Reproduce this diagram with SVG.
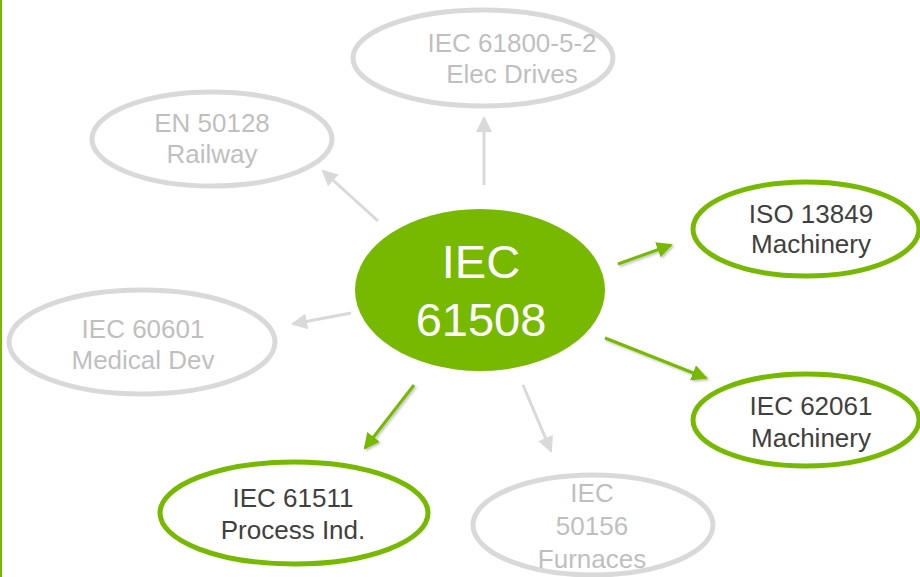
<svg xmlns="http://www.w3.org/2000/svg" width="920" height="577" viewBox="0 0 920 577">
<defs>
<style>
.t{font-family:"Liberation Sans",Arial,sans-serif;font-size:26px;text-anchor:middle}
.gt{fill:#bfbfbf}
.dt{fill:#404040}
.ge{fill:none;stroke:#d9d9d9;stroke-width:5}
.ye{fill:none;stroke:#76b900;stroke-width:5}
.ga{stroke:#d9d9d9;stroke-width:3;fill:none;marker-end:url(#ag)}
.ya{stroke:#76b900;stroke-width:3;fill:none;marker-end:url(#ay);filter:url(#sh)}
</style>
<marker id="ag" viewBox="0 0 16 16" refX="14" refY="8" markerWidth="16" markerHeight="16" markerUnits="userSpaceOnUse" orient="auto-start-reverse"><path d="M0,0 L16,8 L0,16 z" fill="#d9d9d9"/></marker>
<marker id="ay" viewBox="0 0 16 16" refX="14" refY="8" markerWidth="16" markerHeight="16" markerUnits="userSpaceOnUse" orient="auto-start-reverse"><path d="M0,0 L16,8 L0,16 z" fill="#76b900"/></marker>
<filter id="sh" x="-20%" y="-20%" width="140%" height="140%"><feDropShadow dx="1.5" dy="1.5" stdDeviation="1.2" flood-color="#000" flood-opacity="0.25"/></filter>
</defs>
<rect x="0" y="0" width="920" height="577" fill="#ffffff"/>
<line x1="1" y1="0" x2="1" y2="577" stroke="#76b900" stroke-width="2"/>
<g id="connectors">
<line class="ga" x1="484" y1="185" x2="484" y2="118"/>
<line class="ga" x1="378" y1="221" x2="323" y2="171"/>
<line class="ga" x1="351" y1="313" x2="293" y2="324"/>
<line class="ga" x1="523" y1="385" x2="551" y2="451"/>
<line class="ya" x1="618" y1="264" x2="671" y2="245"/>
<line class="ya" x1="605" y1="338" x2="706" y2="378"/>
<line class="ya" x1="414" y1="385" x2="365" y2="448"/>
<line class="ya" x1="811" y1="280" x2="811" y2="371" style="marker-start:url(#ay)"/>
</g>
<g id="n-center">
<ellipse cx="480" cy="290" rx="125" ry="81" fill="#76b900"/>
<text class="t" x="481" y="278" style="font-size:47px;fill:#ffffff">IEC</text>
<text class="t" x="481" y="336" style="font-size:47px;fill:#ffffff">61508</text>
</g>
<g id="n-iec61800">
<ellipse class="ge" cx="483" cy="58" rx="130" ry="48"/>
<text class="t gt" x="512" y="52">IEC 61800-5-2</text>
<text class="t gt" x="512" y="83">Elec Drives</text>
</g>
<g id="n-en50128">
<ellipse class="ge" cx="212" cy="139" rx="120" ry="47"/>
<text class="t gt" x="212" y="132">EN 50128</text>
<text class="t gt" x="212" y="163">Railway</text>
</g>
<g id="n-iec60601">
<ellipse class="ge" cx="142" cy="342" rx="133" ry="52"/>
<text class="t gt" x="143" y="338">IEC 60601</text>
<text class="t gt" x="143" y="369">Medical Dev</text>
</g>
<g id="n-iso13849">
<ellipse class="ye" cx="806" cy="229" rx="113" ry="47"/>
<text class="t dt" x="811" y="223">ISO 13849</text>
<text class="t dt" x="811" y="253">Machinery</text>
</g>
<g id="n-iec62061">
<ellipse class="ye" cx="806" cy="420" rx="113" ry="46"/>
<text class="t dt" x="811" y="415">IEC 62061</text>
<text class="t dt" x="811" y="447">Machinery</text>
</g>
<g id="n-iec61511">
<ellipse class="ye" cx="294" cy="513" rx="134" ry="51"/>
<text class="t dt" x="293" y="507">IEC 61511</text>
<text class="t dt" x="293" y="539">Process Ind.</text>
</g>
<g id="n-iec50156">
<ellipse class="ge" cx="593" cy="525" rx="120" ry="50"/>
<text class="t gt" x="592" y="502">IEC</text>
<text class="t gt" x="592" y="535">50156</text>
<text class="t gt" x="592" y="568">Furnaces</text>
</g>
</svg>
